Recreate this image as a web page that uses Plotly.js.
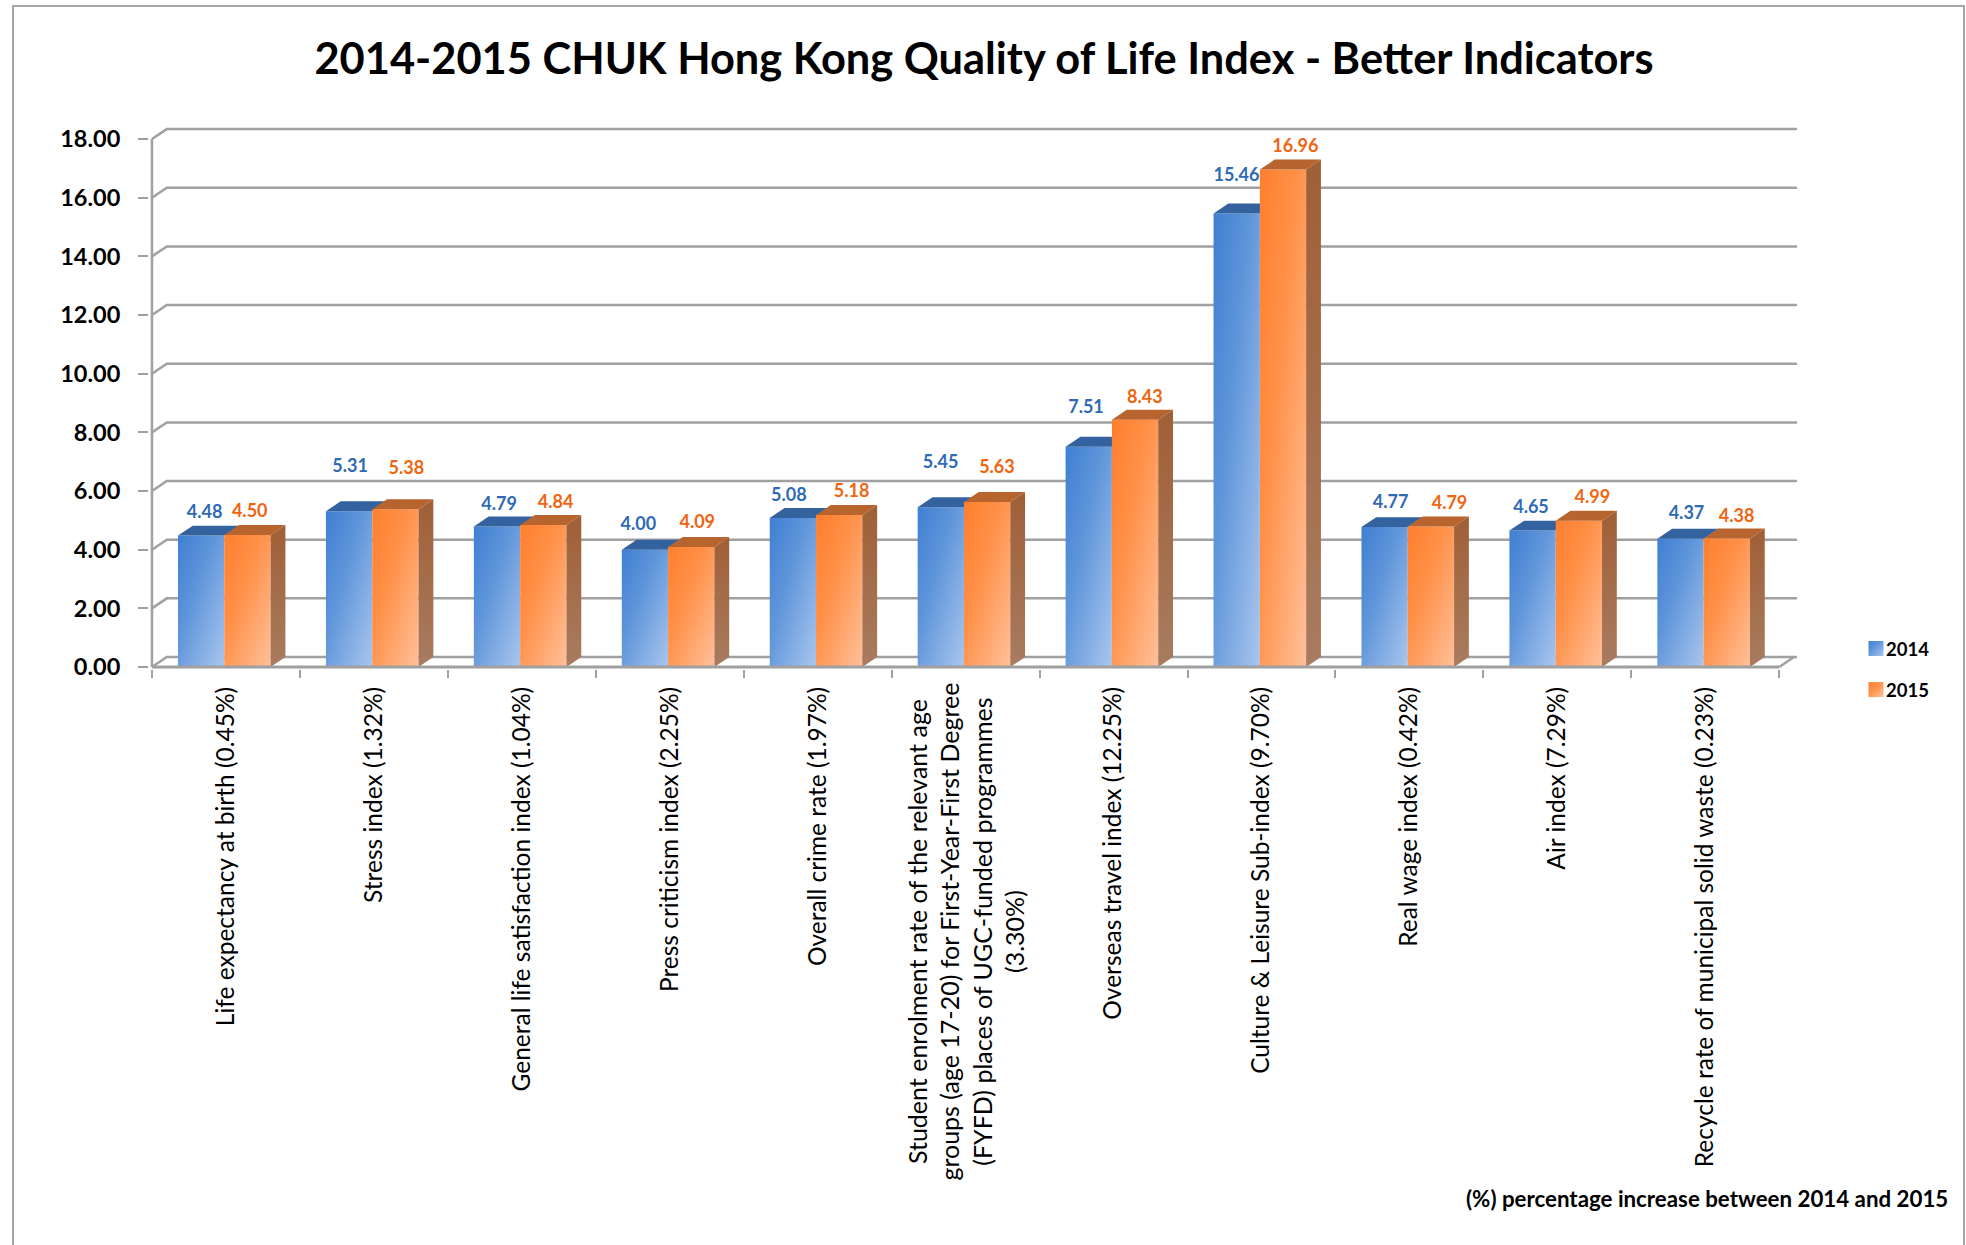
<!DOCTYPE html>
<html>
<head>
<meta charset="utf-8">
<script src="https://cdn.plot.ly/plotly-3.0.1.min.js"></script>
<style>html,body{margin:0;padding:0;background:#fff;overflow:hidden}</style>
</head>
<body>
<div id="chart" style="width:1966px;height:1245px"></div>
<script>
const categories = [
  "Life expectancy at birth (0.45%)",
  "Stress index (1.32%)",
  "General life satisfaction index (1.04%)",
  "Press criticism index (2.25%)",
  "Overall crime rate (1.97%)",
  "Student enrolment rate of the relevant age<br>groups (age 17-20) for First-Year-First Degree<br>(FYFD) places of UGC-funded programmes<br>(3.30%)",
  "Overseas travel index (12.25%)",
  "Culture & Leisure Sub-index (9.70%)",
  "Real wage index (0.42%)",
  "Air index (7.29%)",
  "Recycle rate of municipal solid waste (0.23%)"
];
const values2014 = [4.48, 5.31, 4.79, 4.00, 5.08, 5.45, 7.51, 15.46, 4.77, 4.65, 4.37];
const values2015 = [4.50, 5.38, 4.84, 4.09, 5.18, 5.63, 8.43, 16.96, 4.79, 4.99, 4.38];
const yTicks = [0, 2, 4, 6, 8, 10, 12, 14, 16, 18];

// where each value label sits, in axis units
const labelX2014 = [.356, 1.339, 2.347, 3.288, 4.305, 5.331, 6.314, 7.331, 8.373, 9.322, 10.373];
const labelY2014 = [5.23, 6.81, 5.49, 4.84, 5.83, 6.94, 8.82, 16.72, 5.57, 5.40, 5.19];
const labelX2015 = [.661, 1.720, 2.729, 3.686, 4.729, 5.712, 6.712, 7.729, 8.771, 9.737, 10.712];
const labelY2015 = [5.27, 6.72, 5.57, 4.89, 5.96, 6.77, 9.16, 17.71, 5.53, 5.74, 5.10];

const FONT = 'Lato, "Open Sans", sans-serif';
const GRID = '#a0a0a0';
const DX = 0.1, DY = 0.34, BW = 0.313, GAP = 0.176;
const XMAX = 11.12, XMIN = -0.02, YMIN = -0.068, YMAX = 18.65;
const W = 1966, H = 1245, L = 149, R = 169, T = 120, B = 576;
const plotW = W - L - R, plotH = H - T - B;
const idx = categories.map((_, i) => i);
const STUDENT = 5;

const px = x => (x - L) / plotW;
const py = y => 1 - (y - T) / plotH;

function polyTrace(points, xa, ya, extra) {
  return Object.assign({
    type: 'scatter', mode: 'lines', xaxis: xa, yaxis: ya,
    x: points.map(p => p[0]), y: points.map(p => p[1]),
    fill: 'toself', line: {width: 0}, hoverinfo: 'skip', showlegend: false
  }, extra);
}

const traces = [];
// 2014 front faces and tops (lower subplot)
traces.push({
  type: 'bar', name: '2014', legendgroup: 'a', x: idx.map(i => i + GAP), y: values2014,
  width: BW, offset: 0, marker: {color: '#6c9bdc', line: {width: 0}}, hoverinfo: 'y'
});
idx.forEach(i => {
  const x0 = i + GAP, x1 = x0 + BW, v = values2014[i];
  traces.push(polyTrace([[x0, v], [x1, v], [x1 + DX, v + DY], [x0 + DX, v + DY], [x0, v]], 'x', 'y',
    {fillcolor: '#33629f'}));
});
// 2015 front faces, tops, sides (upper subplot)
traces.push({
  type: 'bar', name: '2015', legendgroup: 'b', xaxis: 'x2', yaxis: 'y2', x: idx.map(i => i + GAP + BW), y: values2015,
  width: BW, offset: 0, marker: {color: '#ff9a5c', line: {width: 0}}, hoverinfo: 'y'
});
idx.forEach(i => {
  const x0 = i + GAP + BW, x1 = x0 + BW, v = values2015[i];
  traces.push(polyTrace([[x0, v], [x1, v], [x1 + DX, v + DY], [x0 + DX, v + DY], [x0, v]], 'x2', 'y2',
    {fillcolor: '#b8642e'}));
  traces.push(polyTrace([[x1, 0], [x1 + DX, DY], [x1 + DX, v + DY], [x1, v], [x1, 0]], 'x2', 'y2',
    {fillgradient: {type: 'vertical', start: v + DY, stop: 0,
      colorscale: [[0, '#a05f36'], [1, '#a87c60']]}}));
});
// value labels
traces.push({
  type: 'scatter', mode: 'text', xaxis: 'x2', yaxis: 'y2', x: labelX2014, y: labelY2014,
  text: values2014.map(v => v.toFixed(2)), textposition: 'middle center',
  textfont: {family: FONT, size: 18, weight: 700, color: '#2f6ab5'}, showlegend: false, hoverinfo: 'skip'
});
traces.push({
  type: 'scatter', mode: 'text', xaxis: 'x2', yaxis: 'y2', x: labelX2015, y: labelY2015,
  text: values2015.map(v => v.toFixed(2)), textposition: 'middle center',
  textfont: {family: FONT, size: 18, weight: 700, color: '#f0650f'}, showlegend: false, hoverinfo: 'skip'
});

// walls and floor
const shapes = [];
yTicks.forEach(v => {
  shapes.push({
    type: 'path', xref: 'x', yref: 'y', layer: 'below',
    path: `M0,${v} L${DX},${v + DY} L${XMAX},${v + DY}`,
    line: {color: GRID, width: 2.5}
  });
});
shapes.push({type: 'line', xref: 'x', yref: 'y', layer: 'below', x0: 0, x1: 0, y0: 0, y1: 18, line: {color: GRID, width: 2.5}});
shapes.push({type: 'line', xref: 'x', yref: 'y', layer: 'above', x0: 0, x1: 11, y0: 0, y1: 0, line: {color: GRID, width: 3}});
shapes.push({type: 'line', xref: 'x', yref: 'y', layer: 'below', x0: 11, x1: 11 + DX, y0: 0, y1: DY, line: {color: GRID, width: 2.5}});
// outer frame, open at the bottom
shapes.push({
  type: 'path', xref: 'paper', yref: 'paper',
  path: `M${px(13)},${py(1245)} L${px(13)},${py(6)} L${px(1964)},${py(6)} L${px(1964)},${py(1245)}`,
  line: {color: '#a6a6a6', width: 2}
});

const layout = {
  width: W, height: H,
  margin: {l: L, r: R, t: T, b: B, pad: 0},
  paper_bgcolor: '#fff', plot_bgcolor: 'rgba(0,0,0,0)',
  font: {family: FONT, color: '#000'},
  title: {
    text: '2014-2015 CHUK Hong Kong Quality of Life Index - Better Indicators',
    font: {family: FONT, size: 43.4, weight: 700, color: '#000'},
    xref: 'paper', x: px(984), xanchor: 'center', yref: 'container', y: 1 - 59 / H, yanchor: 'middle'
  },
  barmode: 'overlay', showlegend: true,
  legend: {
    x: px(1846), xanchor: 'left', y: py(630), yanchor: 'top',
    font: {family: FONT, size: 18.5, weight: 700, color: '#000'},
    tracegroupgap: 14, traceorder: 'grouped', bgcolor: 'rgba(0,0,0,0)', itemclick: false
  },
  xaxis: {
    range: [XMIN, XMAX], showgrid: false, zeroline: false, showline: false,
    tickmode: 'array', tickvals: idx.map(i => i + 0.5),
    ticktext: categories.map((c, i) => i === STUDENT ? ' ' : c),
    ticks: '', tickangle: -90, ticklabelstandoff: 12,
    tickfont: {family: FONT, size: 24.5, color: '#000'},
    minor: {tickmode: 'array', tickvals: idx.concat([11]), ticks: 'outside', ticklen: 8, tickwidth: 2, tickcolor: GRID, showgrid: false}
  },
  yaxis: {
    range: [YMIN, YMAX], showgrid: false, zeroline: false, showline: false,
    tickmode: 'array', tickvals: yTicks, tickformat: '.2f', ticks: 'outside', ticklen: 10, tickwidth: 2, tickcolor: GRID,
    ticklabelstandoff: 13,
    tickfont: {family: FONT, size: 23.5, weight: 700, color: '#000'}
  },
  xaxis2: {overlaying: 'x', anchor: 'y2', range: [XMIN, XMAX], visible: false},
  yaxis2: {overlaying: 'y', anchor: 'x2', range: [YMIN, YMAX], visible: false},
  shapes: shapes,
  annotations: [
    {
      xref: 'x', yref: 'y', x: STUDENT + 0.5, y: 0, yshift: -14, xanchor: 'center', yanchor: 'top',
      text: categories[STUDENT], textangle: -90, align: 'center', showarrow: false,
      font: {family: FONT, size: 25, color: '#000'}
    },
    {
      xref: 'paper', yref: 'paper', x: px(1950), y: py(1198), xanchor: 'right', yanchor: 'middle',
      text: '(%) percentage increase between 2014 and 2015', showarrow: false,
      font: {family: FONT, size: 22.3, weight: 700, color: '#000'}
    }
  ]
};

function applyGradients() {
  const svg = document.querySelector('#chart .main-svg');
  const ns = 'http://www.w3.org/2000/svg';
  let defs = svg.querySelector('defs');
  const addGrad = (id, stops) => {
    const g = document.createElementNS(ns, 'linearGradient');
    g.setAttribute('id', id);
    g.setAttribute('x1', '0'); g.setAttribute('y1', '0');
    g.setAttribute('x2', '1'); g.setAttribute('y2', '1');
    stops.forEach(([o, c]) => {
      const s = document.createElementNS(ns, 'stop');
      s.setAttribute('offset', o); s.setAttribute('stop-color', c);
      g.appendChild(s);
    });
    defs.appendChild(g);
  };
  addGrad('grad2014', [[0, '#3f7fd2'], [0.4, '#5f95da'], [1, '#a9c6ee']]);
  addGrad('grad2015', [[0, '#ff7f2e'], [0.4, '#ff9048'], [1, '#ffc09a']]);
  const layers = document.querySelectorAll('#chart .barlayer');
  const ids = [];
  layers.forEach(l => { if (l.querySelector('.point path')) ids.push(l); });
  if (ids[0]) ids[0].querySelectorAll('.point path').forEach(p => p.style.fill = 'url(#grad2014)');
  if (ids[1]) ids[1].querySelectorAll('.point path').forEach(p => p.style.fill = 'url(#grad2015)');
  const leg = document.querySelectorAll('#chart .legend .legendpoints path');
  ['url(#grad2014)', 'url(#grad2015)'].forEach((f, i) => {
    if (!leg[i]) return;
    leg[i].style.fill = f;
    leg[i].setAttribute('transform', 'translate(30,0) scale(1.25)');
  });
}

Plotly.newPlot('chart', traces, layout, {displayModeBar: false}).then(applyGradients);
</script>
</body>
</html>
